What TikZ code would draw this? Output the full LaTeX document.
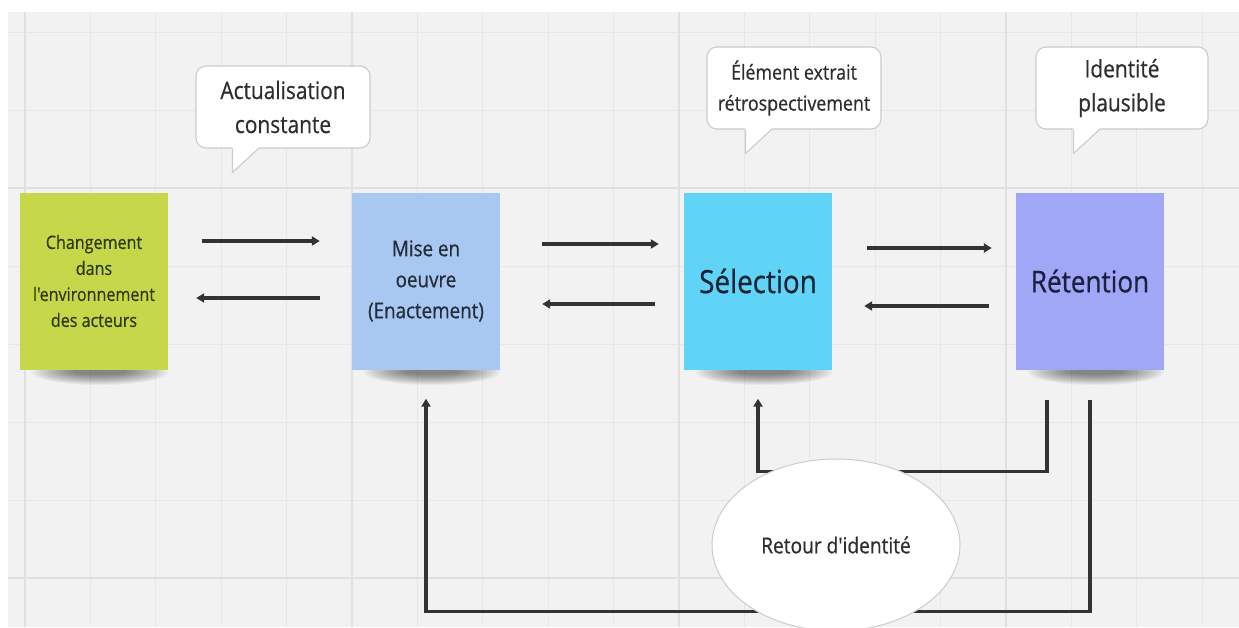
\documentclass[tikz,border=0pt]{standalone}
\usepackage{fontspec}
\setmainfont{Open Sans}[FakeStretch=0.87, FakeBold=0.6, Ligatures=TeXOff]
\usetikzlibrary{arrows.meta,shapes.geometric}
\definecolor{canvas}{HTML}{F2F2F2}
\definecolor{gridminor}{HTML}{E7E7E7}
\definecolor{gridmajor}{HTML}{E0E0E0}
\definecolor{ink}{HTML}{333333}
\definecolor{txt}{HTML}{2E2E2E}
\definecolor{notegreen}{HTML}{C6D84A}
\definecolor{noteblue}{HTML}{A8C8F2}
\definecolor{notecyan}{HTML}{60D4F6}
\definecolor{notepurple}{HTML}{A0A7F6}
\definecolor{bubbleline}{HTML}{CCCCCC}
\newcommand\noteshadow[1]{%
  \foreach \k in {0,...,13}{\fill[black,opacity=0.04] (#1+6,372) ellipse ({68-\k*3.2} and {13-\k*0.8});}}
\begin{document}
\begin{tikzpicture}[x=1pt,y=-1pt,
  note/.style={rectangle, minimum width=148pt, minimum height=177pt, inner sep=0pt, align=center},
  bubble/.style={rectangle, rounded corners=10pt, fill=white, draw=bubbleline, line width=1.1pt,
     minimum height=82pt, align=center, text=txt, font=\fontsize{24}{34}\selectfont},
  arr/.style={draw=ink, line width=3.4pt, -{Triangle[length=8pt,width=9pt]}}]
\useasboundingbox (0,0) rectangle (1239,627);
\fill[white] (0,0) rectangle (1239,627);
\fill[canvas] (8,12) rectangle (1239,627);
% grid
\foreach \k in {0,...,18}{\draw[gridminor, line width=0.9pt] (25+\k*65.4,12) -- (25+\k*65.4,627);}
\foreach \k in {0,...,7}{\draw[gridminor, line width=0.9pt] (8,32+\k*78) -- (1239,32+\k*78);}
\foreach \k in {0,5,10,15}{\draw[gridmajor, line width=1.3pt] (25+\k*65.4,12) -- (25+\k*65.4,627);}
\foreach \k in {2,7}{\draw[gridmajor, line width=1.3pt] (8,32+\k*78) -- (1239,32+\k*78);}
% shadows
\noteshadow{94}
\noteshadow{426}
\noteshadow{758}
\noteshadow{1090}
% notes
\node[note, fill=notegreen, text={rgb,255:red,48;green,58;blue,18}, font=\fontsize{18.5}{26}\selectfont] (g) at (94,281)
  {Changement\\dans\\l'environnement\\des acteurs};
\node[note, fill=noteblue, text={rgb,255:red,36;green,44;blue,58}, font=\fontsize{21.6}{31}\selectfont] (b) at (426,281)
  {Mise en\\oeuvre\\(Enactement)};
\node[note, fill=notecyan, text={rgb,255:red,22;green,36;blue,52}, font=\fontsize{32}{38}\selectfont] (c) at (758,281)
  {Sélection};
\node[note, fill=notepurple, text={rgb,255:red,28;green,32;blue,62}, font=\fontsize{30}{36}\selectfont] (p) at (1090,281)
  {Rétention};
% horizontal arrows
\draw[arr] ([xshift=34pt,yshift=40pt]g.east) -- ([xshift=-32pt,yshift=40pt]b.west);
\draw[arr] ([xshift=-32pt,yshift=-17pt]b.west) -- ([xshift=28pt,yshift=-17pt]g.east);
\draw[arr] ([xshift=42pt,yshift=37pt]b.east) -- ([xshift=-25pt,yshift=37pt]c.west);
\draw[arr] ([xshift=-29pt,yshift=-23pt]c.west) -- ([xshift=42pt,yshift=-23pt]b.east);
\draw[arr] ([xshift=35pt,yshift=33pt]c.east) -- ([xshift=-24pt,yshift=33pt]p.west);
\draw[arr] ([xshift=-27pt,yshift=-25pt]p.west) -- ([xshift=32pt,yshift=-25pt]c.east);
% feedback loops
\draw[arr] ([yshift=-30pt]p.south) -- ++(0,212) -| ([yshift=-29pt]b.south);
\draw[arr] ([xshift=-43pt,yshift=-30pt]p.south) -- ++(0,72) -| ([yshift=-29pt]c.south);
\node[ellipse, fill=white, draw=bubbleline, line width=1pt, minimum width=248pt, minimum height=172pt,
  text=txt, font=\fontsize{22}{26}\selectfont] (r) at (836,545) {Retour d'identité};
% callouts
\node[bubble, minimum width=174pt] (c1) at (283,107) {Actualisation\\constante};
\node[bubble, minimum width=174pt, font=\fontsize{20.5}{31}\selectfont] (c2) at (794,88) {Élément extrait\\rétrospectivement};
\node[bubble, minimum width=172pt] (c3) at (1122,88) {Identité\\plausible};
\foreach \cn/\dx in {c1/37, c2/39, c3/38}{
  \fill[white] ([xshift=\dx pt,yshift=2pt]\cn.south west) -- ++(0,26) -- ([xshift=\dx pt+27pt,yshift=2pt]\cn.south west) -- cycle;
  \draw[bubbleline, line width=1.1pt, line join=round] ([xshift=\dx pt]\cn.south west) -- ++(0,24) -- ([xshift=\dx pt+26pt]\cn.south west);
}
\end{tikzpicture}
\end{document}
